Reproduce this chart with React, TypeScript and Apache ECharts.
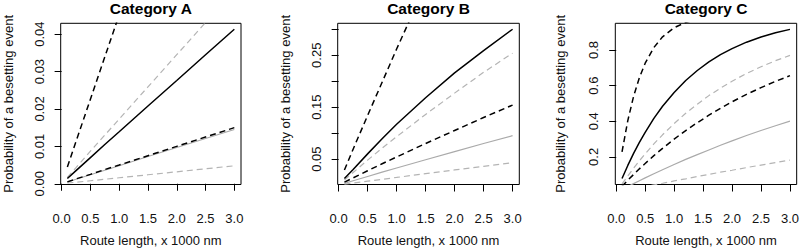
import React, { useEffect, useRef } from "react";
import * as echarts from "echarts";

// ---------- data ----------
const routeLengthAB = [0.1, 0.25, 0.5, 0.75, 1.0, 1.5, 2.0, 2.5, 3.0];
const routeLengthC = [0.1, 0.2, 0.3, 0.4, 0.5, 0.65, 0.8, 1.0, 1.2, 1.4, 1.6, 1.8, 2.0, 2.25, 2.5, 2.75, 3.0];
const xTickValues = [0, 0.5, 1, 1.5, 2, 2.5, 3];
const panelTitles = ["Category A", "Category B", "Category C"];

// Category A
const aFit = [0.0014, 0.0035, 0.007, 0.0105, 0.0139, 0.0208, 0.0276, 0.0345, 0.0413];
const aFitHi = [0.0045, 0.0113, 0.0226, 0.0339, 0.0452, 0.066, 0.087, 0.107, 0.127];
const aFitLo = [0.0005, 0.0013, 0.0025, 0.0038, 0.005, 0.0075, 0.01, 0.0125, 0.015];
const aAlt = [0.0005, 0.0012, 0.0024, 0.0036, 0.0048, 0.0073, 0.0097, 0.0121, 0.0145];
const aAltHi = [0.0017, 0.0043, 0.0087, 0.013, 0.0173, 0.0259, 0.0345, 0.0431, 0.0515];
const aAltLo = [0.0002, 0.0004, 0.0008, 0.0012, 0.0016, 0.0024, 0.0032, 0.004, 0.0048];

// Category B
const bFit = [0.0125, 0.03, 0.06, 0.089, 0.117, 0.168, 0.216, 0.259, 0.3];
const bFitHi = [0.029, 0.069, 0.134, 0.198, 0.262, 0.385, 0.49, 0.58, 0.66];
const bFitLo = [0.0056, 0.0138, 0.0275, 0.041, 0.054, 0.08, 0.105, 0.13, 0.154];
const bAlt = [0.0033, 0.0083, 0.0165, 0.0247, 0.0328, 0.0487, 0.0644, 0.08, 0.095];
const bAltHi = [0.0097, 0.024, 0.048, 0.071, 0.093, 0.136, 0.177, 0.217, 0.254];
const bAltLo = [0.0015, 0.0037, 0.0074, 0.011, 0.0146, 0.022, 0.029, 0.036, 0.043];

// Category C
const cFit = [0.079, 0.152, 0.22, 0.281, 0.338, 0.416, 0.484, 0.562, 0.629, 0.685, 0.733, 0.774, 0.808, 0.844, 0.873, 0.897, 0.916];
const cFitHi = [0.228, 0.404, 0.54, 0.645, 0.726, 0.814, 0.874, 0.925, 0.955, 0.973, 0.984, 0.991, 0.994, 0.997, 0.998, 0.999, 0.9996];
const cFitLo = [0.035, 0.069, 0.101, 0.133, 0.163, 0.207, 0.248, 0.3, 0.348, 0.392, 0.434, 0.473, 0.509, 0.551, 0.589, 0.624, 0.656];
const cAlt = [0.017, 0.034, 0.05, 0.066, 0.082, 0.105, 0.128, 0.157, 0.186, 0.213, 0.239, 0.265, 0.29, 0.32, 0.348, 0.375, 0.401];
const cAltHi = [0.048, 0.093, 0.137, 0.178, 0.217, 0.273, 0.324, 0.387, 0.445, 0.496, 0.544, 0.586, 0.625, 0.668, 0.706, 0.74, 0.77];
const cAltLo = [0.0067, 0.013, 0.02, 0.026, 0.033, 0.043, 0.052, 0.065, 0.077, 0.09, 0.102, 0.114, 0.125, 0.14, 0.154, 0.168, 0.182];

const aYTicks = [0, 0.01, 0.02, 0.03, 0.04];
const aYLabels = [0, 0.01, 0.02, 0.03, 0.04];
const bYTicks = [0.05, 0.1, 0.15, 0.2, 0.25, 0.3];
const bYLabels = [0.05, 0.15, 0.25];
const cYTicks = [0.2, 0.4, 0.6, 0.8];
const cYLabels = [0.2, 0.4, 0.6, 0.8];

const xTitle = "Route length, x 1000 nm";
const yTitle = "Probability of a besetting event";

// ---------- layout / style ----------
const FONT = "'Liberation Sans', Arial, Helvetica, sans-serif";
const xRange = [-0.016, 3.116];
const panels = [
  { left: 60.7, width: 180.3, yMin: -0.0002, yMax: 0.0429, yTicks: aYTicks, yLabels: aYLabels, dec: 2, nameGap: 46, xs: routeLengthAB,
    series: { fit: aFit, fitHi: aFitHi, fitLo: aFitLo, alt: aAlt, altHi: aAltHi, altLo: aAltLo } },
  { left: 337.7, width: 181.6, yMin: 0.001, yMax: 0.3115, yTicks: bYTicks, yLabels: bYLabels, dec: 2, nameGap: 46, xs: routeLengthAB,
    series: { fit: bFit, fitHi: bFitHi, fitLo: bFitLo, alt: bAlt, altHi: bAltHi, altLo: bAltLo } },
  { left: 615.3, width: 181.4, yMin: 0.045, yMax: 0.95, yTicks: cYTicks, yLabels: cYLabels, dec: 1, nameGap: 48, xs: routeLengthC,
    series: { fit: cFit, fitHi: cFitHi, fitLo: cFitLo, alt: cAlt, altHi: cAltHi, altLo: cAltLo } },
];
const TOP = 23.3;
const HEIGHT = 165;

const roleStyles: Record<string, any> = {
  altLo: { color: "#b4b4b4", width: 1.2, type: [6, 4] },
  altHi: { color: "#b4b4b4", width: 1.2, type: [6, 4] },
  alt: { color: "#aaaaaa", width: 1.2, type: "solid" },
  fitLo: { color: "#000000", width: 1.5, type: [6, 4] },
  fitHi: { color: "#000000", width: 1.5, type: [6, 4] },
  fit: { color: "#000000", width: 1.5, type: "solid" },
};
const roleOrder = ["altLo", "altHi", "alt", "fitLo", "fitHi", "fit"];

export default function App() {
  const ref = useRef<HTMLDivElement>(null);
  useEffect(() => {
    document.body.style.margin = "0";
    if (!ref.current) return;
    const chart = echarts.init(ref.current, undefined, { renderer: "svg" });

    const grid = panels.map((p) => ({
      left: p.left, top: TOP, width: p.width, height: HEIGHT,
      show: true, borderColor: "#000", borderWidth: 1, backgroundColor: "transparent",
    }));
    const title = panels.map((p, i) => ({
      text: panelTitles[i],
      left: p.left + p.width / 2,
      top: 0,
      padding: 0,
      textAlign: "center",
      textStyle: { fontFamily: FONT, fontWeight: "bold", fontSize: 15.5, color: "#000" },
    }));
    const xAxis = panels.map((p, i) => ({
      type: "value", gridIndex: i, min: xRange[0], max: xRange[1],
      axisLine: { show: false },
      splitLine: { show: false },
      axisTick: { show: true, inside: false, length: 7, customValues: xTickValues, lineStyle: { color: "#000", width: 1 } },
      axisLabel: {
        customValues: xTickValues, margin: 27.5, fontFamily: FONT, fontSize: 13, color: "#111",
        formatter: (v: number) => v.toFixed(1),
      },
      name: xTitle, nameLocation: "middle", nameGap: 49.5,
      nameTextStyle: { fontFamily: FONT, fontSize: 13, color: "#111" },
    }));
    const yAxis = panels.map((p, i) => ({
      type: "value", gridIndex: i, min: p.yMin, max: p.yMax,
      axisLine: { show: false },
      splitLine: { show: false },
      axisTick: { show: true, inside: false, length: 7, customValues: p.yTicks, lineStyle: { color: "#000", width: 1 } },
      axisLabel: {
        customValues: p.yLabels, margin: 15, rotate: 90, fontFamily: FONT, fontSize: 13, color: "#111",
        formatter: (v: number) => v.toFixed(p.dec),
      },
      name: yTitle, nameLocation: "middle", nameGap: p.nameGap, nameRotate: 90,
      nameTextStyle: { fontFamily: FONT, fontSize: 13, color: "#111" },
    }));
    const series: any[] = [];
    panels.forEach((p, i) => {
      roleOrder.forEach((role) => {
        const vals = (p.series as any)[role] as number[];
        const st = roleStyles[role];
        series.push({
          type: "line", xAxisIndex: i, yAxisIndex: i,
          data: p.xs.map((x, k) => [x, vals[k]]),
          showSymbol: false, symbol: "none", smooth: false,
          clip: true,
          lineStyle: { color: st.color, width: st.width, type: st.type },
          silent: true,
        });
      });
    });

    chart.setOption({ animation: false, title, grid, xAxis, yAxis, series });
    return () => chart.dispose();
  }, []);
  return <div ref={ref} style={{ width: 802, height: 252 }} />;
}
